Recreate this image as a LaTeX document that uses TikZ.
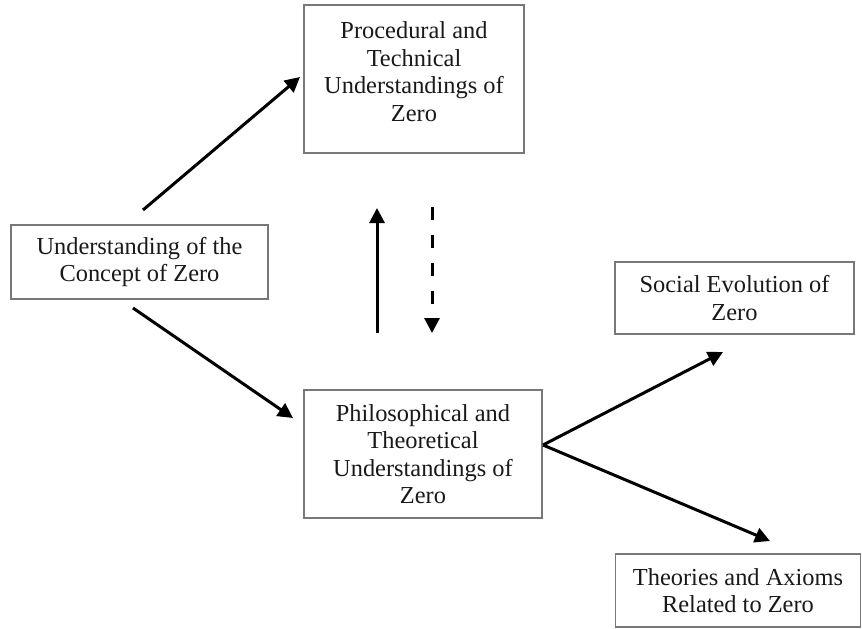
\documentclass[tikz,border=0pt]{standalone}
\usepackage{fontspec}
\setmainfont{Liberation Serif}
\usetikzlibrary{arrows.meta}
\definecolor{boxgray}{RGB}{120,120,120}
\definecolor{inkc}{RGB}{25,25,25}
\begin{document}
\begin{tikzpicture}[x=1pt,y=-1pt,
  boxnode/.style={draw=boxgray, line width=1.5pt, inner sep=0pt, align=center,
    text=inkc, font=\fontsize{24.4}{27.5}\selectfont},
  txtnode/.style={inner sep=0pt, align=center, text=inkc, font=\fontsize{24.4}{27.5}\selectfont},
  arr/.style={draw=black, line width=3pt, -{Triangle[length=15pt,width=15pt]}},
  dasharr/.style={arr, dash pattern=on 13pt off 15pt}
]
\useasboundingbox (0,0) rectangle (862,629);
\fill[white] (0,0) rectangle (862,629);

% boxes
\node[boxnode, minimum width=220pt, minimum height=148pt] (proc) at (414,79) {};
\node[txtnode] (procT) at (414,71.5) {Procedural and\\Technical\\Understandings of\\Zero};
\node[boxnode, minimum width=257pt, minimum height=74pt] (und) at (139.5,262)
  {Understanding of the\\Concept of Zero};
\node[boxnode, minimum width=239pt, minimum height=72pt] (soc) at (734.5,298)
  {Social Evolution of\\Zero};
\node[boxnode, minimum width=238pt, minimum height=128pt] (phil) at (423,454)
  {Philosophical and\\Theoretical\\Understandings of\\Zero};
\node[boxnode, minimum width=245pt, minimum height=73pt] (theo) at (738,590.5)
  {Theories and Axioms\\Related to Zero};

% connector end points
\coordinate (a1s) at (143,210);
\coordinate (a1e) at (300,77);
\coordinate (a2s) at (133,308);
\coordinate (a2e) at (293,418);
\coordinate (ups) at (377,333);
\coordinate (upe) at (377,208);
\coordinate (dns) at (432,207);
\coordinate (dne) at (432,333);
\coordinate (br) at (543,445);
\coordinate (se) at (723,352);
\coordinate (te) at (770,541);

% connectors
\draw[arr] (a1s) -- (a1e);
\draw[arr] (a2s) -- (a2e);
\draw[arr] (ups) -- (upe);
\draw[dasharr] (dns) -- (dne);
\draw[arr] (br) -- (se);
\draw[arr] (br) -- (te);
\end{tikzpicture}
\end{document}
